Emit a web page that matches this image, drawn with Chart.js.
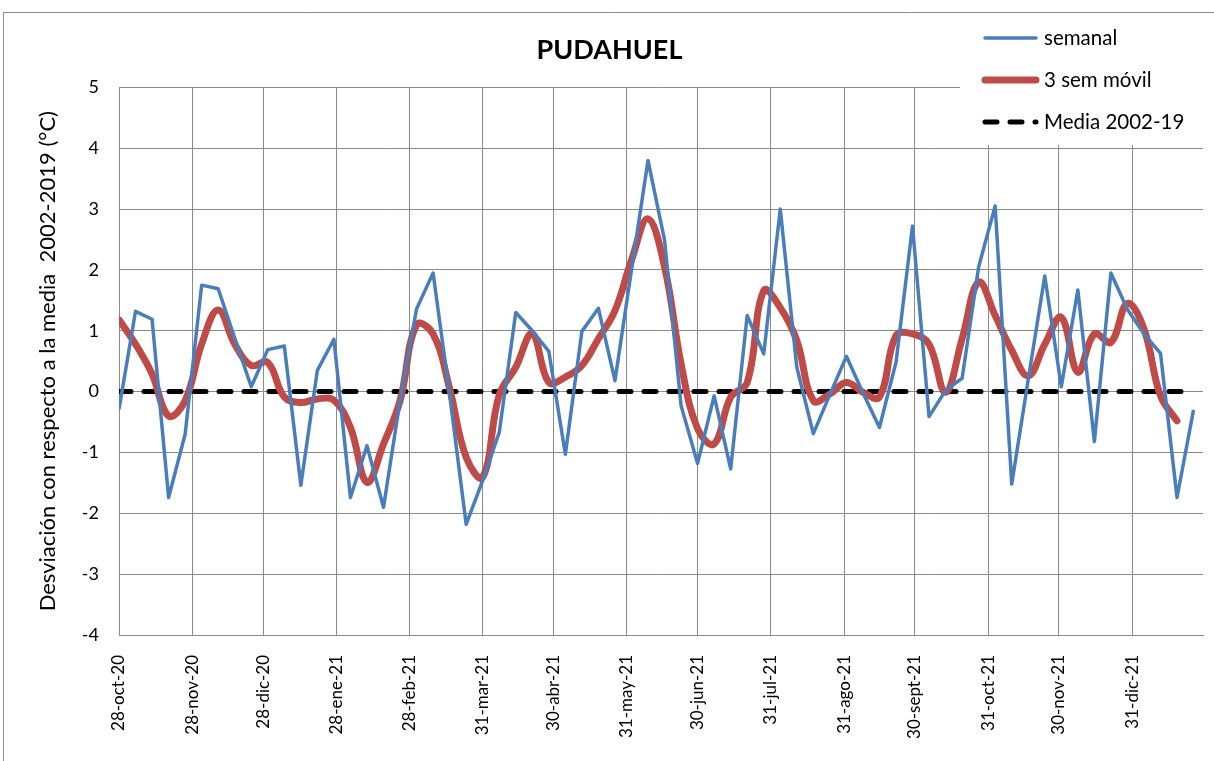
<!DOCTYPE html>
<html>
<head>
<meta charset="utf-8">
<script src="https://cdn.jsdelivr.net/npm/chart.js@4.4.1/dist/chart.umd.min.js"></script>
<style>
  html, body { margin: 0; padding: 0; background: #fff; }
  #wrap { width: 1214px; height: 761px; }
</style>
</head>
<body>
<div id="wrap"><canvas id="chart" width="1214" height="761"></canvas></div>
<script>
// weekly series, first week = 28-oct-20
const startDate = '2020-10-28';
const axisEndDate = '2022-01-30';

const semanal = [
  -0.29, 1.32, 1.19, -1.74, -0.70, 1.75, 1.69, 0.88, 0.08, 0.69,
  0.75, -1.54, 0.35, 0.86, -1.74, -0.89, -1.90, -0.15, 1.36, 1.95,
  -0.05, -2.18, -1.46, -0.67, 1.30, 1.00, 0.66, -1.03, 0.99, 1.37,
  0.18, 2.00, 3.80, 2.49, -0.23, -1.18, -0.07, -1.27, 1.25, 0.62,
  3.00, 0.40, -0.69, -0.05, 0.58, -0.02, -0.59, 0.48, 2.72, -0.41,
  0.02, 0.22, 2.05, 3.05, -1.52, 0.20, 1.90, 0.08, 1.67, -0.82,
  1.95, 1.35, 0.95, 0.63, -1.74, -0.30
];

const movil = [
  1.18, 0.78, 0.29, -0.40, -0.15, 0.78, 1.34, 0.78, 0.43, 0.48,
  -0.09, -0.18, -0.12, -0.14, -0.59, -1.49, -0.86, -0.15, 1.10, 0.95,
  0.05, -1.08, -1.41, -0.05, 0.40, 0.95, 0.15, 0.24, 0.43, 0.87,
  1.33, 2.16, 2.84, 2.05, 0.46, -0.61, -0.86, -0.09, 0.15, 1.66,
  1.38, 0.84, -0.15, -0.04, 0.15, -0.01, -0.09, 0.92, 0.95, 0.78,
  -0.01, 0.87, 1.80, 1.25, 0.68, 0.26, 0.78, 1.22, 0.32, 0.95,
  0.81, 1.45, 1.03, -0.07, -0.48
];

const media = 0;

const tickDates = ['2020-10-28', '2020-11-28', '2020-12-28', '2021-01-28', '2021-02-28',
  '2021-03-31', '2021-04-30', '2021-05-31', '2021-06-30', '2021-07-31', '2021-08-31',
  '2021-09-30', '2021-10-31', '2021-11-30', '2021-12-31'];
const tickLabels = ['28-oct-20', '28-nov-20', '28-dic-20', '28-ene-21', '28-feb-21',
  '31-mar-21', '30-abr-21', '31-may-21', '30-jun-21', '31-jul-21', '31-ago-21',
  '30-sept-21', '31-oct-21', '30-nov-21', '31-dic-21'];

const yTicks = [-4, -3, -2, -1, 0, 1, 2, 3, 4, 5];

// days since start
function dayOf(d) {
  return Math.round((Date.parse(d) - Date.parse(startDate)) / 86400000);
}
const tickDays = tickDates.map(dayOf);
const labelByDay = {};
tickDays.forEach((d, i) => labelByDay[d] = tickLabels[i]);

const FONT = 'Lato, "Open Sans", sans-serif';
const GRID = '#8a8a8a';

// outer frame + legend box like the excel one
const frameAndLegend = {
  id: 'frameAndLegend',
  beforeDraw(chart) {
    const ctx = chart.ctx;
    ctx.save();
    ctx.strokeStyle = '#8c8c8c';
    ctx.lineWidth = 1;
    ctx.beginPath();
    ctx.moveTo(3.5, 761);
    ctx.lineTo(3.5, 12.5);
    ctx.lineTo(1214, 12.5);
    ctx.stroke();
    ctx.restore();
  },
  afterDraw(chart) {
    const ctx = chart.ctx;
    ctx.save();
    ctx.fillStyle = '#fff';
    ctx.fillRect(960, 13, 254, 132);
    const rows = [38, 80, 122];
    chart.data.datasets.forEach((ds, i) => {
      const y = rows[i];
      ctx.beginPath();
      ctx.strokeStyle = ds.borderColor;
      ctx.lineWidth = ds.borderWidth;
      ctx.lineCap = 'round';
      ctx.setLineDash(ds.borderDash || []);
      ctx.moveTo(985, y);
      ctx.lineTo(1036, y);
      ctx.stroke();
      ctx.setLineDash([]);
      ctx.fillStyle = '#000';
      ctx.font = '20.5px ' + FONT;
      ctx.textBaseline = 'middle';
      ctx.textAlign = 'left';
      ctx.fillText(ds.label, 1044, y);
    });
    ctx.restore();
  }
};

const weeks = semanal.map((v, i) => i * 7);

new Chart(document.getElementById('chart'), {
  type: 'line',
  data: {
    datasets: [
      {
        label: 'semanal',
        data: semanal.map((v, i) => ({ x: weeks[i], y: v })),
        borderColor: '#4a7ebb',
        borderWidth: 3.5,
        borderJoinStyle: 'round',
        pointRadius: 0,
        tension: 0
      },
      {
        label: '3 sem móvil',
        data: movil.map((v, i) => ({ x: weeks[i], y: v })),
        borderColor: '#be4b48',
        borderWidth: 7,
        borderCapStyle: 'round',
        borderJoinStyle: 'round',
        pointRadius: 0,
        tension: 0.4
      },
      {
        label: 'Media 2002-19',
        data: weeks.map(w => ({ x: w, y: media })),
        borderColor: '#000',
        borderWidth: 5,
        borderDash: [12, 13],
        borderCapStyle: 'round',
        pointRadius: 0,
        tension: 0
      }
    ]
  },
  options: {
    responsive: false,
    animation: false,
    layout: { padding: { left: 16, right: 11, top: 0, bottom: 0 } },
    plugins: {
      legend: { display: false },
      tooltip: { enabled: false },
      title: {
        display: true,
        text: 'PUDAHUEL',
        color: '#000',
        font: { family: FONT, size: 27, weight: 'bold', lineHeight: 1.2 },
        padding: { top: 34, bottom: 21 }
      }
    },
    scales: {
      x: {
        type: 'linear',
        min: 0,
        max: dayOf(axisEndDate),
        afterBuildTicks: scale => { scale.ticks = tickDays.map(v => ({ value: v })); },
        afterFit: scale => { scale.height = 126; },
        ticks: {
          autoSkip: false,
          maxRotation: 90,
          minRotation: 90,
          padding: 20,
          color: '#000',
          font: { family: FONT, size: 17 },
          callback: v => labelByDay[v] || ''
        },
        grid: { color: GRID, lineWidth: 1, drawTicks: false },
        border: { color: GRID, width: 1 }
      },
      y: {
        min: -4,
        max: 5,
        afterBuildTicks: scale => { scale.ticks = yTicks.map(v => ({ value: v })); },
        afterFit: scale => { scale.width = 103; },
        ticks: {
          padding: 20,
          color: '#000',
          font: { family: FONT, size: 18 }
        },
        grid: { color: GRID, lineWidth: 1, drawTicks: false },
        border: { color: GRID, width: 1 },
        title: {
          display: true,
          text: 'Desviación con respecto a la media  2002-2019 (°C)',
          color: '#000',
          font: { family: FONT, size: 22 },
          padding: { top: 19, bottom: 0 }
        }
      }
    }
  },
  plugins: [frameAndLegend]
});
</script>
</body>
</html>
